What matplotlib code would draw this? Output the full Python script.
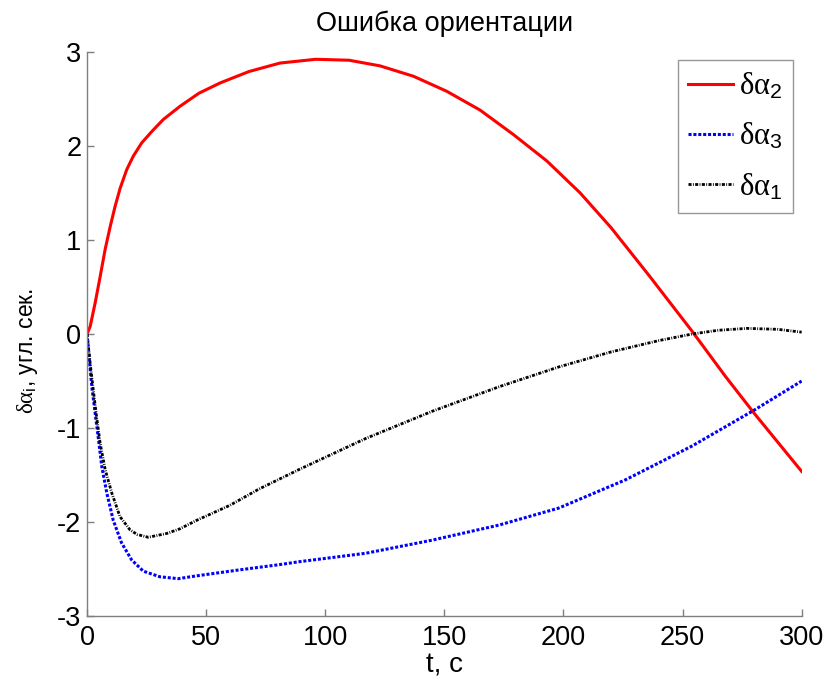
import matplotlib
matplotlib.use('Agg')
import matplotlib.pyplot as plt

plt.rcParams['font.family'] = ['Liberation Sans', 'DejaVu Sans']
plt.rcParams['axes.unicode_minus'] = False
plt.rcParams['mathtext.fontset'] = 'custom'
plt.rcParams['mathtext.rm'] = 'Liberation Serif'
plt.rcParams['mathtext.it'] = 'Liberation Serif:italic'
plt.rcParams['mathtext.sf'] = 'Liberation Sans'

# δα2
t_a2 = [0, 1.3, 3.4, 5.5, 7.6, 9.7, 11.8, 13.9, 16.7, 19.4, 22.9, 27.1, 32, 39,
        47, 56, 68, 81, 96, 110, 123, 137, 151, 165, 179, 193, 207, 220, 236,
        254, 268, 280, 300]
a2 = [0, 0.08, 0.33, 0.61, 0.90, 1.14, 1.36, 1.55, 1.75, 1.89, 2.03, 2.15, 2.28,
      2.42, 2.56, 2.67, 2.79, 2.88, 2.92, 2.91, 2.85, 2.74, 2.58, 2.38, 2.12,
      1.84, 1.50, 1.13, 0.62, 0.03, -0.45, -0.84, -1.46]

# δα3
t_a3 = [0, 2.0, 3.4, 4.8, 6.2, 8.3, 11, 14.5, 18.7, 23.6, 30.6, 38.3, 46, 63,
        81, 89, 117, 145, 173, 198, 226, 254, 280, 300]
a3 = [0, -0.56, -0.84, -1.12, -1.41, -1.69, -1.98, -2.22, -2.40, -2.52, -2.58,
      -2.60, -2.57, -2.51, -2.45, -2.42, -2.33, -2.19, -2.03, -1.85, -1.55,
      -1.19, -0.81, -0.50]

# δα1
t_a1 = [0, 1.3, 2.6, 4.0, 5.5, 7.6, 10.4, 13.8, 18, 21, 25.7, 33.4, 39, 46, 60,
        72, 89, 117, 145, 173, 198, 220, 240, 254, 265, 277, 290, 300]
a1 = [0, -0.31, -0.59, -0.88, -1.16, -1.44, -1.69, -1.94, -2.08, -2.13, -2.16,
      -2.12, -2.07, -1.98, -1.82, -1.65, -1.44, -1.11, -0.82, -0.56, -0.35,
      -0.19, -0.07, 0.0, 0.04, 0.06, 0.05, 0.02]

fig = plt.figure(figsize=(8.29, 6.81), dpi=100)
ax = fig.add_axes([0.105, 0.095, 0.862, 0.829])

ax.plot(t_a2, a2, color='red', lw=2.2, label=r'$\mathrm{δα}_\mathsf{2}$')
ax.plot(t_a3, a3, color='blue', lw=2.2, dashes=(1.0, 0.6),
        label=r'$\mathrm{δα}_\mathsf{3}$')
ax.plot(t_a1, a1, color='black', lw=2.0, dashes=(1.1, 0.5, 0.3, 0.5),
        label=r'$\mathrm{δα}_\mathsf{1}$')

ax.set_xlim(0, 300)
ax.set_ylim(-3, 3)
ax.set_xticks([0, 50, 100, 150, 200, 250, 300])
ax.set_yticks([-3, -2, -1, 0, 1, 2, 3])

ax.spines['right'].set_visible(False)
ax.spines['top'].set_visible(False)
for s in ('left', 'bottom'):
    ax.spines[s].set_color('#7f7f7f')
    ax.spines[s].set_linewidth(1.0)
ax.tick_params(direction='in', length=5, width=1.0, color='#7f7f7f',
               labelsize=19.5)
ax.tick_params(axis='x', pad=6)
ax.tick_params(axis='y', pad=4)

ax.set_title('Ошибка ориентации', fontsize=19.5, pad=15)
ax.set_xlabel('t, c', fontsize=20, labelpad=1)
ax.set_ylabel(r'$\mathrm{δα}_\mathsf{i}$, угл. сек.', fontsize=16.5, labelpad=12)
ax.yaxis.label.set_y(0.47)

leg = ax.legend(loc='upper right', bbox_to_anchor=(0.988, 0.985), fontsize=22,
                fancybox=False, handlelength=1.45, handletextpad=0.2,
                borderpad=0.35, labelspacing=0.65, borderaxespad=0)
leg.get_frame().set_edgecolor('#7f7f7f')
leg.get_frame().set_linewidth(1.0)

plt.savefig('out.png', dpi=100)
